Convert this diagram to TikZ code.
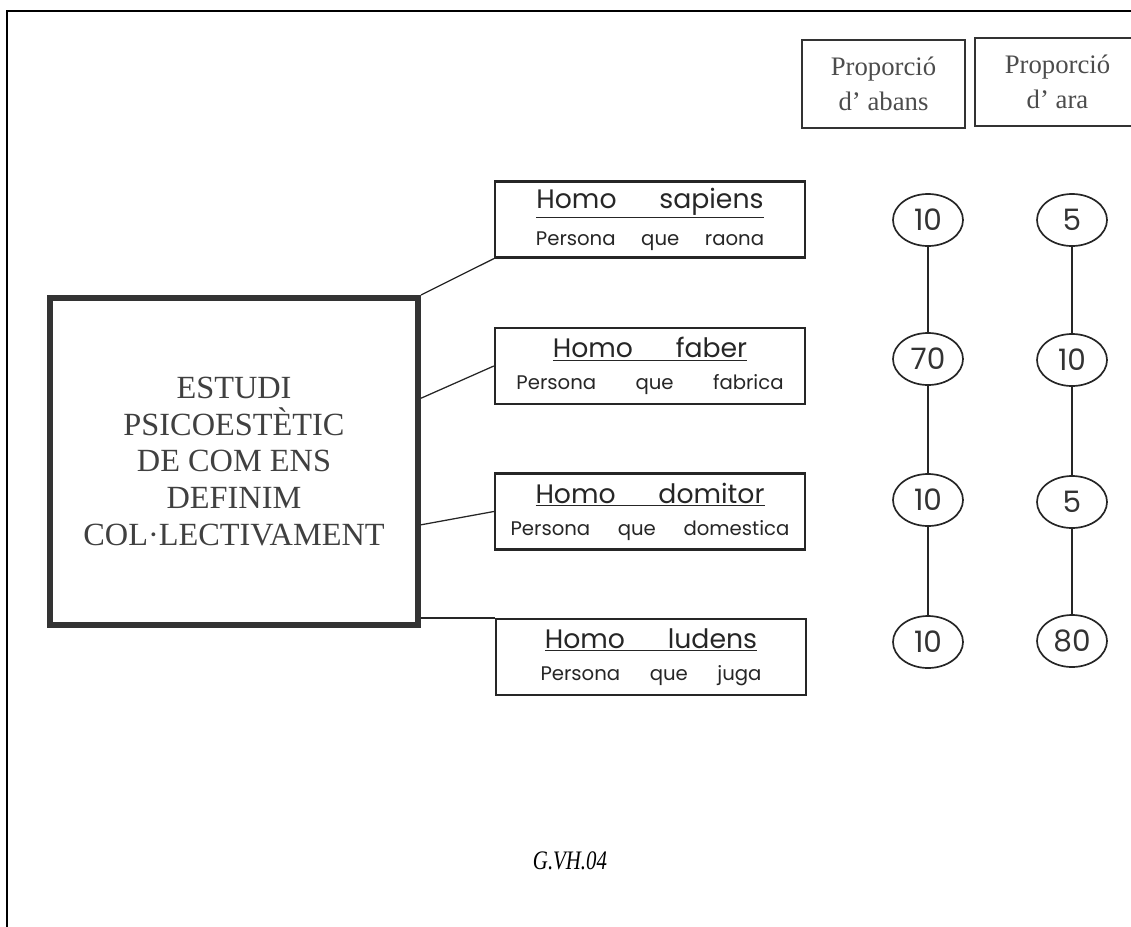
\documentclass[tikz,border=0pt]{standalone}
\usepackage{fontspec}
\setmainfont{Liberation Serif}
\newfontfamily\gothic{Poppins}
\newfontfamily\capfont{Liberation Serif}[FakeStretch=0.78]
\usetikzlibrary{shapes.geometric,calc}
\newcommand{\gap}{\hspace{1.6em}}

\begin{document}
\begin{tikzpicture}[x=0.025cm,y=-0.025cm,
    frame/.style={line width=1.8pt},
    study/.style={draw=black!80,line width=4.3pt,minimum width=9.2cm,minimum height=8.175cm,align=center,text=black!75,font=\fontsize{23}{26}\selectfont},
    homo/.style={draw=black!85,line width=1.6pt,minimum width=7.75cm,minimum height=1.9cm,align=center,text=black!85,font=\gothic},
    head/.style={draw=black!80,line width=1.6pt,minimum height=2.2cm,align=center,text=black!70,font=\fontsize{19}{25}\selectfont},
    share/.style={ellipse,draw=black!85,line width=1.2pt,minimum width=1.75cm,minimum height=1.3cm,inner sep=0pt,text=black!80,font=\gothic\fontsize{21}{21}\selectfont},
    link/.style={draw=black!85,line width=0.9pt}]
    \useasboundingbox (0,0) rectangle (1131,927);
    \draw[frame] (1131,11) -- (7,11) -- (7,927);

    \node[study] (big) at (234,461.5) {ESTUDI\\PSICOESTÈTIC\\DE COM ENS\\DEFINIM\\COL·LECTIVAMENT};

    \node[homo] (sap) at (650,219.5) {\fontsize{19}{25}\selectfont\underline{Homo\gap sapiens}\\[9pt]\fontsize{14}{25}\selectfont Persona\hspace{1.3em}que\hspace{1.3em}raona};
    \node[homo] (fab) at (650,366) {\fontsize{19}{25}\selectfont\underline{Homo\gap faber}\\[9pt]\fontsize{14}{25}\selectfont Persona\hspace{2em}que\hspace{2em}fabrica};
    \node[homo] (dom) at (650,511.5) {\fontsize{19}{25}\selectfont\underline{Homo\gap domitor}\\[9pt]\fontsize{14}{25}\selectfont Persona\hspace{1.4em}que\hspace{1.4em}domestica};
    \node[homo] (lud) at (651,657) {\fontsize{19}{25}\selectfont\underline{Homo\gap ludens}\\[9pt]\fontsize{14}{25}\selectfont Persona\hspace{1.5em}que\hspace{1.5em}juga};

    \draw[link] (big.north east) -- (sap.south west);
    \draw[link] ($(big.north east)!.31!(big.south east)$) -- (fab.west);
    \draw[link] ($(big.north east)!.69!(big.south east)$) -- (dom.west);
    \draw[link] (big.east |- lud.north west) -- (lud.north west);

    \node[head,minimum width=4.075cm] (abans) at (883.5,84) {Proporció\\d’ abans};
    \node[head,minimum width=4.125cm] (ara) at (1057.5,82) {Proporció\\d’ ara};

    \node[share] (a1) at (928,220) {10};
    \node[share] (a2) at (928,359) {70};
    \node[share] (a3) at (928,500) {10};
    \node[share] (a4) at (928,642) {10};
    \node[share] (b1) at (1072,220) {5};
    \node[share] (b2) at (1072,360) {10};
    \node[share] (b3) at (1072,502) {5};
    \node[share] (b4) at (1072,641) {80};
    \draw[link] (a1) -- (a2);
    \draw[link] (a2) -- (a3);
    \draw[link] (a3) -- (a4);
    \draw[link] (b1) -- (b2);
    \draw[link] (b2) -- (b3);
    \draw[link] (b3) -- (b4);

    \node[font=\capfont\itshape\fontsize{19}{19}\selectfont] (code) at (570,861) {G.VH.04};
  \end{tikzpicture}
\end{document}
